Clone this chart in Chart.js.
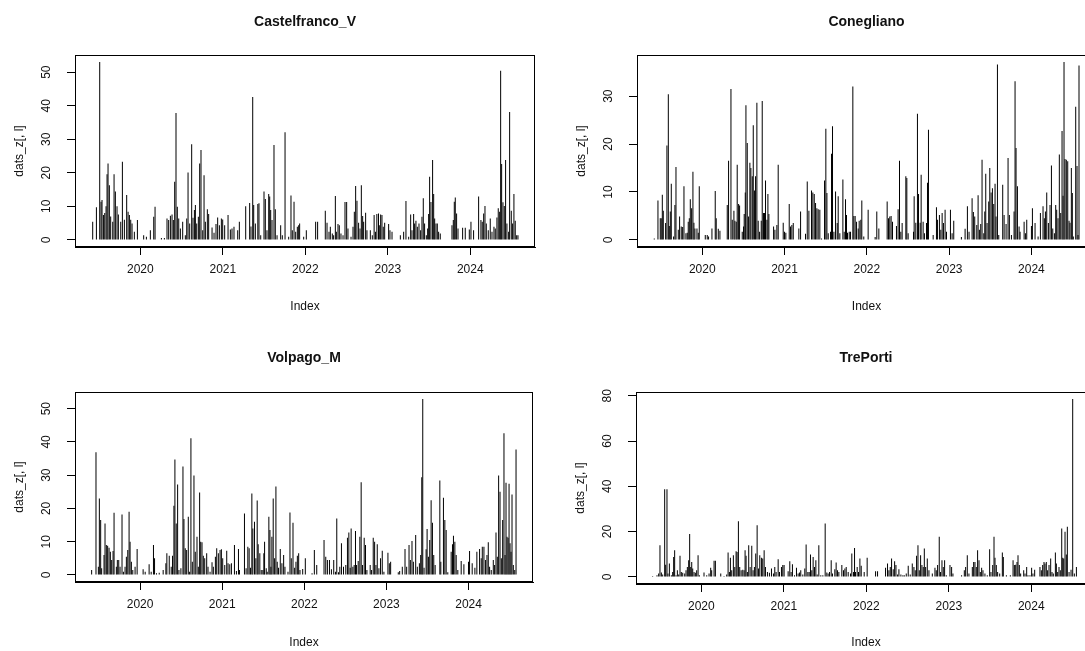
<!DOCTYPE html>
<html>
<head>
<meta charset="utf-8">
<script src="https://cdn.jsdelivr.net/npm/chart.js@4.4.1/dist/chart.umd.min.js"></script>
<style>
html,body{margin:0;padding:0;background:#fff;overflow:hidden;}
#page{position:relative;width:1085px;height:651px;overflow:hidden;background:#fff;}
canvas{position:absolute;}
</style>
</head>
<body>
<div id="page">
<canvas id="c1"></canvas>
<canvas id="c2"></canvas>
<canvas id="c3"></canvas>
<canvas id="c4"></canvas>
</div>
<script>
// ---------- data (dates as decimal years, daily values) ----------
const stationNames = ["Castelfranco_V", "Conegliano", "Volpago_M", "TrePorti"];
const xTickYears = [2020, 2021, 2022, 2023, 2024];
const indexRange = [2019.414, 2024.578]; // first and last day of the series
const yLabel = "dats_z[, l]";
const xLabel = "Index";

const castelfrancoTicks = [0, 10, 20, 30, 40, 50];
const coneglianoTicks = [0, 10, 20, 30];
const volpagoTicks = [0, 10, 20, 30, 40, 50];
const treportiTicks = [0, 20, 40, 60, 80];

const castelfrancoDates = [
2019.422,2019.467,2019.507,2019.523,2019.535,2019.552,2019.568,2019.584,2019.596,2019.608,2019.624,2019.640,2019.665,2019.681,2019.697,2019.717,2019.733,2019.762,2019.782,2019.806,2019.834,2019.851,2019.867,2019.883,2019.899,2019.927,2019.964,
2020.040,2020.073,2020.121,2020.162,2020.178,2020.255,2020.291,2020.323,2020.343,2020.364,2020.384,2020.400,2020.416,2020.432,2020.448,2020.465,2020.485,2020.513,2020.545,2020.562,2020.578,2020.598,2020.622,2020.638,2020.655,2020.667,2020.683,2020.703,2020.719,2020.735,2020.756,2020.772,2020.788,2020.812,2020.828,2020.869,2020.893,2020.917,2020.937,2020.958,2020.982,2020.998,
2021.022,2021.063,2021.091,2021.111,2021.135,2021.180,2021.200,2021.277,2021.325,2021.341,2021.362,2021.374,2021.394,2021.424,2021.438,2021.459,2021.499,2021.515,2021.535,2021.556,2021.568,2021.580,2021.596,2021.620,2021.636,2021.657,2021.701,2021.721,2021.754,2021.798,2021.826,2021.842,2021.863,2021.883,2021.903,2021.919,2021.931,2021.980,
2022.012,2022.125,2022.149,2022.242,2022.263,2022.287,2022.303,2022.327,2022.343,2022.364,2022.376,2022.396,2022.412,2022.432,2022.457,2022.481,2022.501,2022.517,2022.554,2022.578,2022.594,2022.610,2022.626,2022.646,2022.663,2022.679,2022.695,2022.707,2022.731,2022.747,2022.788,2022.812,2022.834,2022.850,2022.867,2022.887,2022.897,2022.913,2022.929,2022.945,2022.962,
2023.010,2023.026,2023.051,2023.152,2023.192,2023.220,2023.253,2023.277,2023.293,2023.313,2023.325,2023.341,2023.358,2023.378,2023.398,2023.414,2023.430,2023.446,2023.467,2023.483,2023.495,2023.507,2023.523,2023.543,2023.556,2023.568,2023.584,2023.600,2023.616,2023.636,2023.778,2023.794,2023.806,2023.818,2023.834,2023.851,2023.907,2023.939,2023.988,
2024.008,2024.040,2024.101,2024.129,2024.145,2024.162,2024.178,2024.194,2024.218,2024.242,2024.263,2024.287,2024.303,2024.323,2024.339,2024.356,2024.368,2024.380,2024.396,2024.412,2024.428,2024.444,2024.465,2024.477,2024.497,2024.513,2024.529,2024.545,2024.562,2024.578
];
const castelfrancoValues = [
5.4,9.7,53.0,11.4,11.9,7.4,8.0,10.0,19.6,22.8,16.3,7.0,5.4,19.6,14.4,10.0,7.6,5.4,23.3,6.0,13.4,8.4,7.4,6.0,4.9,2.4,5.9,
1.4,0.9,2.9,6.9,9.9,0.6,0.6,6.4,5.9,7.2,7.6,5.9,17.3,37.8,9.9,6.4,3.4,5.4,1.4,6.4,20.1,4.9,28.5,6.6,8.9,10.4,4.9,6.9,22.8,26.8,2.9,19.3,5.4,9.1,7.7,3.7,2.1,4.7,6.7,4.4,6.4,6.1,
4.4,7.4,3.1,3.4,3.9,2.9,5.4,10.0,11.0,4.0,42.6,10.4,4.9,10.7,10.9,1.4,14.4,12.2,2.9,13.7,12.9,8.9,5.9,28.3,9.1,1.4,4.4,1.4,32.1,0.9,13.2,2.9,11.4,2.4,3.9,4.4,4.9,0.9,
2.9,5.4,5.4,8.7,5.1,2.4,3.9,1.9,1.4,13.1,2.4,4.7,4.4,1.9,1.4,11.3,11.3,3.4,0.9,3.9,8.4,16.1,11.7,5.1,3.4,16.3,7.1,5.4,8.1,2.9,2.9,1.4,7.4,2.4,7.7,7.9,4.4,7.6,7.4,3.9,5.1,
4.7,2.9,2.4,1.4,2.4,11.6,0.9,7.6,2.9,7.7,4.9,5.7,3.9,4.9,2.9,6.9,12.4,4.9,1.4,3.4,7.7,18.8,11.3,23.8,13.7,6.4,4.9,4.9,2.4,1.9,4.4,5.9,11.4,12.6,7.9,3.4,3.6,3.6,3.1,
5.4,2.9,12.9,5.9,5.4,7.9,10.1,4.9,2.9,6.4,2.4,3.9,3.4,6.7,9.4,8.4,50.4,22.6,11.2,10.1,23.8,4.9,2.4,38.1,8.7,4.9,13.7,5.7,1.4,1.4
];

const coneglianoDates = [
2019.417,2019.462,2019.490,2019.502,2019.515,2019.527,2019.555,2019.571,2019.588,2019.600,2019.612,2019.624,2019.652,2019.668,2019.681,2019.709,2019.725,2019.745,2019.762,2019.778,2019.802,2019.818,2019.830,2019.843,2019.855,2019.871,2019.887,2019.899,2019.911,2019.936,2019.952,2019.964,
2020.037,2020.061,2020.077,2020.118,2020.158,2020.170,2020.195,2020.215,2020.304,2020.320,2020.349,2020.365,2020.385,2020.397,2020.413,2020.425,2020.442,2020.454,2020.486,2020.502,2020.510,2020.523,2020.531,2020.547,2020.563,2020.579,2020.591,2020.608,2020.620,2020.636,2020.648,2020.664,2020.680,2020.697,2020.717,2020.729,2020.745,2020.757,2020.769,2020.786,2020.798,2020.810,2020.867,2020.883,2020.907,2020.923,2020.984,
2021.000,2021.016,2021.057,2021.073,2021.089,2021.106,2021.174,2021.195,2021.255,2021.276,2021.296,2021.328,2021.344,2021.361,2021.377,2021.393,2021.409,2021.429,2021.450,2021.486,2021.502,2021.515,2021.531,2021.559,2021.571,2021.583,2021.600,2021.620,2021.640,2021.652,2021.672,2021.709,2021.725,2021.741,2021.753,2021.765,2021.786,2021.802,2021.830,2021.842,2021.858,2021.875,2021.895,2021.907,2021.927,2021.939,2021.963,
2022.016,2022.101,2022.121,2022.146,2022.247,2022.263,2022.279,2022.295,2022.312,2022.360,2022.380,2022.397,2022.413,2022.429,2022.474,2022.486,2022.502,2022.567,2022.575,2022.595,2022.615,2022.628,2022.648,2022.660,2022.684,2022.700,2022.725,2022.737,2022.749,2022.806,2022.846,2022.858,2022.882,2022.899,2022.915,2022.931,2022.951,2022.968,
2023.016,2023.036,2023.056,2023.149,2023.194,2023.222,2023.242,2023.279,2023.295,2023.311,2023.336,2023.352,2023.368,2023.384,2023.400,2023.421,2023.433,2023.445,2023.461,2023.481,2023.494,2023.510,2023.526,2023.542,2023.558,2023.570,2023.587,2023.603,2023.651,2023.668,2023.692,2023.716,2023.732,2023.757,2023.789,2023.801,2023.813,2023.830,2023.850,2023.862,2023.911,2023.927,2023.943,
2024.000,2024.012,2024.044,2024.081,2024.109,2024.141,2024.157,2024.170,2024.186,2024.206,2024.226,2024.243,2024.259,2024.279,2024.295,2024.307,2024.323,2024.339,2024.356,2024.372,2024.384,2024.396,2024.408,2024.424,2024.441,2024.457,2024.469,2024.485,2024.497,2024.509,2024.538,2024.554,2024.566,2024.578
];
const coneglianoValues = [
0.3,8.2,4.5,4.5,9.4,6.1,3.5,19.7,30.4,2.9,5.9,11.7,0.7,7.3,15.2,2.1,4.9,2.8,2.7,11.2,1.4,1.5,3.8,4.5,8.5,6.6,14.2,3.6,2.4,2.4,1.5,11.2,
1.0,1.0,0.7,2.4,10.2,4.5,2.3,1.9,7.3,16.5,31.5,4.2,6.1,4.0,3.8,15.7,7.5,7.2,1.7,2.8,5.4,9.9,28.1,20.2,4.9,16.1,15.0,13.3,23.9,10.3,13.3,28.6,4.0,1.7,4.0,29.0,5.6,5.6,12.4,4.2,9.6,5.4,2.8,2.1,3.1,15.7,3.6,
1.7,1.5,7.5,2.8,3.1,3.5,2.4,5.9,1.3,12.2,6.1,10.3,9.9,9.6,7.7,6.6,6.4,6.3,0.3,12.4,23.2,9.8,1.4,1.7,18.0,23.7,1.7,10.1,3.5,9.1,1.4,12.6,1.7,8.5,5.2,1.5,1.7,1.7,32.0,5.0,5.0,3.8,2.4,4.0,4.2,8.2,0.7,
6.3,0.6,5.9,2.4,8.0,4.5,4.9,5.0,3.8,2.9,6.4,16.5,1.7,3.5,13.3,12.9,1.4,1.7,9.1,3.6,26.3,9.6,3.6,13.6,3.8,1.4,3.5,11.9,23.0,1.0,6.8,4.2,5.2,2.1,5.6,3.5,6.3,1.7,
6.3,1.4,4.0,0.6,2.3,7.0,1.7,8.7,5.8,4.9,3.1,9.3,2.1,3.3,16.7,1.4,5.9,13.8,3.5,8.0,15.0,9.9,10.8,7.5,11.7,4.9,36.6,1.0,11.5,5.2,3.3,17.1,5.2,1.0,5.9,33.1,19.2,11.2,2.8,1.7,3.8,1.4,4.2,
2.9,6.6,3.5,0.7,5.6,7.0,4.5,5.9,9.9,3.5,7.3,15.5,2.4,1.4,7.3,6.3,4.5,17.8,5.6,22.7,9.2,37.1,16.9,16.7,16.4,4.0,3.6,15.0,9.8,0.7,27.8,15.4,1.0,36.4
];

const volpagoDates = [
2019.410,2019.463,2019.492,2019.504,2019.520,2019.532,2019.561,2019.573,2019.589,2019.605,2019.622,2019.638,2019.654,2019.671,2019.683,2019.711,2019.723,2019.740,2019.756,2019.780,2019.797,2019.817,2019.833,2019.850,2019.866,2019.878,2019.894,2019.911,2019.939,2019.964,
2020.037,2020.062,2020.110,2020.135,2020.163,2020.176,2020.200,2020.233,2020.281,2020.314,2020.326,2020.355,2020.379,2020.395,2020.412,2020.424,2020.440,2020.457,2020.473,2020.497,2020.522,2020.534,2020.550,2020.567,2020.587,2020.603,2020.619,2020.636,2020.656,2020.672,2020.693,2020.709,2020.725,2020.738,2020.754,2020.770,2020.787,2020.811,2020.827,2020.852,2020.876,2020.892,2020.917,2020.933,2020.953,2020.974,2020.990,
2021.006,2021.031,2021.055,2021.071,2021.092,2021.112,2021.149,2021.173,2021.198,2021.210,2021.271,2021.291,2021.312,2021.328,2021.344,2021.361,2021.373,2021.393,2021.410,2021.426,2021.438,2021.458,2021.475,2021.495,2021.507,2021.516,2021.536,2021.548,2021.568,2021.581,2021.593,2021.605,2021.621,2021.638,2021.654,2021.670,2021.686,2021.707,2021.727,2021.748,2021.764,2021.801,2021.825,2021.841,2021.862,2021.882,2021.898,2021.915,2021.931,2021.947,2021.980,
2022.012,2022.094,2022.122,2022.151,2022.240,2022.261,2022.281,2022.306,2022.330,2022.358,2022.379,2022.395,2022.416,2022.432,2022.452,2022.477,2022.505,2022.525,2022.542,2022.558,2022.570,2022.591,2022.607,2022.623,2022.636,2022.656,2022.676,2022.692,2022.709,2022.729,2022.745,2022.762,2022.802,2022.819,2022.839,2022.856,2022.872,2022.888,2022.908,2022.928,2022.949,2022.969,
2023.018,2023.035,2023.051,2023.144,2023.161,2023.193,2023.226,2023.246,2023.275,2023.291,2023.311,2023.328,2023.356,2023.376,2023.401,2023.417,2023.430,2023.442,2023.458,2023.483,2023.495,2023.511,2023.527,2023.544,2023.560,2023.576,2023.593,2023.650,2023.662,2023.694,2023.711,2023.727,2023.747,2023.788,2023.804,2023.816,2023.833,2023.849,2023.869,2023.910,2023.943,2023.999,
2024.012,2024.044,2024.077,2024.101,2024.134,2024.154,2024.167,2024.187,2024.207,2024.224,2024.240,2024.256,2024.276,2024.301,2024.317,2024.334,2024.350,2024.366,2024.383,2024.399,2024.415,2024.431,2024.444,2024.456,2024.468,2024.481,2024.493,2024.505,2024.517,2024.529,2024.545,2024.562,2024.578
];
const volpagoValues = [
1.5,36.9,2.5,23.0,16.5,2.0,6.0,15.5,9.0,8.8,8.2,7.0,4.5,7.2,18.7,2.5,4.5,4.5,2.5,18.2,1.0,2.5,5.5,7.5,19.0,10.0,4.0,1.5,2.5,7.8,
1.7,1.0,3.2,1.0,9.0,5.0,0.5,0.7,1.5,3.5,6.5,5.8,2.5,5.8,20.8,34.7,15.5,27.2,1.5,2.0,32.6,16.8,8.0,7.5,17.5,1.0,41.1,4.0,29.9,7.0,11.5,2.5,24.8,10.0,9.8,5.8,5.0,6.5,2.5,1.0,3.8,2.5,5.5,8.0,6.5,7.5,7.7,
5.0,3.0,7.3,3.5,3.2,3.5,9.0,1.2,7.8,1.5,18.5,2.0,8.5,8.0,2.2,24.5,14.0,16.0,5.0,22.4,9.2,6.5,1.5,1.5,6.5,10.0,2.0,1.0,17.5,13.5,2.5,11.5,23.0,5.0,26.6,4.0,2.2,7.8,3.5,6.0,2.5,1.0,18.8,5.0,15.7,2.2,4.0,5.8,6.5,1.5,1.8,
5.0,0.5,7.5,3.0,10.5,5.5,4.5,4.5,1.7,4.5,1.0,17.0,0.8,2.5,9.5,2.5,3.0,11.2,12.8,2.2,14.0,2.5,3.0,13.2,3.0,4.2,11.5,27.9,3.0,11.2,9.0,1.5,3.0,1.5,11.2,10.0,3.0,9.2,2.0,5.0,7.3,1.0,
6.7,3.5,4.0,0.8,1.2,2.5,7.8,2.5,9.0,4.5,10.2,4.0,12.0,2.5,3.5,6.0,29.4,52.9,2.2,7.7,13.8,5.5,10.5,22.5,15.7,6.0,3.0,28.4,4.0,23.2,16.5,13.5,0.8,7.0,9.2,11.8,10.0,6.0,1.5,4.2,3.2,4.0,
7.2,3.5,2.2,7.0,7.8,5.0,8.5,8.5,4.5,6.0,9.8,2.5,1.5,4.5,3.0,12.8,5.5,29.9,25.0,5.0,16.5,42.6,6.0,27.7,11.5,11.2,27.4,9.5,7.0,24.2,3.0,1.5,37.7
];

const treportiDates = [
2019.409,2019.462,2019.482,2019.498,2019.515,2019.531,2019.555,2019.567,2019.583,2019.595,2019.612,2019.636,2019.652,2019.664,2019.676,2019.693,2019.709,2019.725,2019.741,2019.757,2019.774,2019.798,2019.814,2019.830,2019.846,2019.858,2019.871,2019.883,2019.895,2019.911,2019.927,2019.943,2019.960,2019.976,
2020.032,2020.065,2020.093,2020.113,2020.125,2020.154,2020.170,2020.235,2020.275,2020.307,2020.324,2020.340,2020.352,2020.368,2020.388,2020.405,2020.421,2020.433,2020.449,2020.465,2020.482,2020.502,2020.518,2020.530,2020.542,2020.558,2020.574,2020.591,2020.611,2020.627,2020.643,2020.659,2020.676,2020.692,2020.708,2020.728,2020.744,2020.761,2020.777,2020.801,2020.825,2020.850,2020.874,2020.890,2020.906,2020.931,2020.947,2020.971,2020.987,
2021.003,2021.052,2021.072,2021.088,2021.104,2021.129,2021.153,2021.173,2021.189,2021.205,2021.230,2021.254,2021.270,2021.291,2021.307,2021.323,2021.339,2021.355,2021.371,2021.388,2021.404,2021.424,2021.448,2021.473,2021.501,2021.521,2021.537,2021.554,2021.574,2021.590,2021.618,2021.634,2021.651,2021.667,2021.703,2021.723,2021.740,2021.756,2021.780,2021.808,2021.824,2021.845,2021.857,2021.869,2021.889,2021.905,2021.922,2021.938,2021.974,
2022.010,2022.112,2022.136,2022.233,2022.257,2022.274,2022.290,2022.306,2022.326,2022.343,2022.359,2022.379,2022.395,2022.419,2022.443,2022.460,2022.484,2022.508,2022.532,2022.557,2022.577,2022.593,2022.609,2022.626,2022.642,2022.658,2022.674,2022.690,2022.703,2022.719,2022.739,2022.759,2022.800,2022.832,2022.848,2022.864,2022.884,2022.900,2022.917,2022.933,2022.949,2022.969,
2023.014,2023.034,2023.050,2023.155,2023.188,2023.204,2023.224,2023.244,2023.285,2023.301,2023.317,2023.333,2023.349,2023.366,2023.382,2023.398,2023.414,2023.438,2023.466,2023.495,2023.511,2023.532,2023.548,2023.560,2023.576,2023.592,2023.617,2023.649,2023.661,2023.698,2023.746,2023.779,2023.795,2023.811,2023.827,2023.839,2023.855,2023.871,2023.908,2023.924,2023.944,2023.960,2023.984,
2024.004,2024.020,2024.041,2024.105,2024.122,2024.138,2024.154,2024.166,2024.182,2024.198,2024.215,2024.235,2024.251,2024.267,2024.292,2024.304,2024.320,2024.336,2024.352,2024.369,2024.381,2024.393,2024.409,2024.425,2024.437,2024.458,2024.482,2024.502,2024.522,2024.547
];
const treportiValues = [
0.4,0.7,1.5,14.0,1.9,1.0,38.7,5.4,38.7,1.5,5.9,0.7,2.2,8.8,11.8,0.7,2.9,1.0,9.3,2.2,1.8,1.5,2.9,4.4,7.4,18.9,4.4,6.6,3.7,2.2,1.8,2.9,9.6,0.7,
1.9,0.7,1.5,4.0,2.9,7.1,7.1,1.5,0.4,1.0,10.8,2.2,8.4,2.9,9.6,4.4,11.3,11.0,24.6,4.4,2.9,3.2,2.9,11.8,9.3,2.2,14.0,4.4,13.7,2.9,4.4,10.3,22.8,3.7,9.6,8.4,8.1,11.8,4.4,2.2,1.8,3.7,1.5,4.4,2.2,7.8,2.2,4.4,5.2,
5.2,2.5,6.9,2.2,5.6,0.7,4.0,1.5,1.9,2.9,1.0,3.7,14.3,2.2,2.2,9.9,2.9,8.8,4.4,7.4,1.0,14.0,0.7,0.7,23.6,1.9,1.5,2.2,7.4,1.5,3.4,6.3,2.9,2.2,5.2,2.9,3.7,4.4,2.2,1.5,10.3,2.2,12.8,2.2,4.4,2.2,8.1,4.9,2.2,
8.4,2.5,2.5,4.0,5.9,2.9,4.4,8.1,3.4,6.9,5.2,1.0,3.4,1.0,0.7,0.7,1.5,4.9,1.0,5.9,4.4,2.9,9.3,14.0,2.9,9.6,5.2,4.4,12.5,4.4,8.1,2.9,1.5,4.0,2.9,5.2,17.7,2.2,7.4,4.4,7.4,0.7,
5.2,4.4,1.5,0.7,2.9,4.4,9.6,1.5,4.4,6.6,6.6,4.4,11.8,7.4,2.2,4.0,2.9,1.5,0.7,12.2,2.2,5.2,17.7,8.4,5.2,2.2,1.5,10.8,8.8,0.7,0.7,7.4,5.2,5.4,6.6,9.6,5.2,1.5,2.9,1.5,4.4,0.7,0.7,
4.0,1.5,3.2,4.4,2.9,5.2,6.6,5.9,6.6,2.9,5.2,8.1,2.2,1.5,10.8,5.9,2.2,4.4,2.9,21.4,8.4,8.1,19.9,9.9,22.1,2.2,3.2,78.5,1.5,4.4
];

// ---------- layout (page pixels) ----------
const panels = [
  {id:"c1", x:0,   y:0,   w:620, h:330, box:{l:75,  t:55,  r:535,  b:247}, titleY:22,  ylabX:20,  indexY:307},
  {id:"c2", x:560, y:0,   w:620, h:330, box:{l:637, t:55,  r:1096, b:247}, titleY:22,  ylabX:582, indexY:307},
  {id:"c3", x:0,   y:335, w:620, h:316, box:{l:75,  t:392, r:533,  b:582}, titleY:358, ylabX:20,  indexY:643},
  {id:"c4", x:560, y:335, w:620, h:316, box:{l:636, t:392, r:1096, b:584}, titleY:358, ylabX:581, indexY:643}
];
const series = [
  {dates: castelfrancoDates, values: castelfrancoValues, ticks: castelfrancoTicks},
  {dates: coneglianoDates,   values: coneglianoValues,   ticks: coneglianoTicks},
  {dates: volpagoDates,      values: volpagoValues,      ticks: volpagoTicks},
  {dates: treportiDates,     values: treportiValues,     ticks: treportiTicks}
];

const FONT = "'Liberation Sans', Arial, Helvetica, sans-serif";
const INK = "#111";

const boxPlugin = {
  id: "rbox",
  afterDraw(chart) {
    const a = chart.chartArea, ctx = chart.ctx;
    ctx.save();
    ctx.strokeStyle = "#000";
    ctx.lineWidth = 1;
    ctx.strokeRect(a.left + 0.5, a.top + 0.5, a.right - a.left - 1, a.bottom - a.top - 1);
    ctx.restore();
  }
};

panels.forEach((p, i) => {
  const s = series[i];
  const cv = document.getElementById(p.id);
  cv.width = p.w; cv.height = p.h;
  cv.style.left = p.x + "px"; cv.style.top = p.y + "px";
  cv.style.width = p.w + "px"; cv.style.height = p.h + "px";

  const maxV = Math.max(...s.values);
  const span = indexRange[1] - indexRange[0];
  const xMin = indexRange[0] - 0.04 * span, xMax = indexRange[1] + 0.04 * span;
  const yMin = -0.04 * maxV, yMax = 1.04 * maxV;

  const titleSize = 14, titleLH = titleSize * 1.2;
  const titleBlock = p.box.t - p.y;
  const tPadTop = (p.titleY - p.y) - titleLH / 2;
  const tPadBottom = titleBlock - tPadTop - titleLH;

  const yAxisW = p.box.l - p.x;
  const xAxisH = (p.y + p.h) - p.box.b;
  const padRight = p.w - (p.box.r - p.x);

  const tickLen = 8;
  const lab = 12, labLH = lab * 1.2;

  const points = s.dates.map((d, k) => ({x: d, y: s.values[k]}));

  new Chart(cv, {
    type: "bar",
    data: {
      datasets: [{
        data: points,
        backgroundColor: "#000",
        borderWidth: 0,
        inflateAmount: 0,
        barThickness: 1,
        categoryPercentage: 1,
        barPercentage: 1
      }]
    },
    options: {
      responsive: false,
      animation: false,
      devicePixelRatio: 1,
      events: [],
      layout: {padding: {left: 0, top: 0, bottom: 0, right: padRight}},
      plugins: {
        legend: {display: false},
        tooltip: {enabled: false},
        title: {
          display: true,
          text: stationNames[i],
          fullSize: false,
          color: INK,
          font: {family: FONT, size: titleSize, weight: "bold"},
          padding: {top: tPadTop, bottom: tPadBottom}
        }
      },
      scales: {
        x: {
          type: "linear",
          offset: false,
          min: xMin, max: xMax,
          afterBuildTicks: sc => { sc.ticks = xTickYears.map(v => ({value: v})); },
          afterFit: sc => { sc.height = xAxisH; },
          grid: {offset: false, drawOnChartArea: false, drawTicks: true, tickLength: tickLen, color: "#000", lineWidth: 1},
          border: {display: true, color: "#000", width: 1},
          ticks: {
            autoSkip: false, maxRotation: 0, minRotation: 0,
            padding: 23 - tickLen - labLH / 2,
            color: INK, font: {family: FONT, size: lab},
            callback: v => String(v)
          },
          title: {
            display: true, text: xLabel, color: INK,
            font: {family: FONT, size: lab},
            padding: {top: 0, bottom: (p.y + p.h) - p.indexY - labLH / 2}
          }
        },
        y: {
          type: "linear",
          min: yMin, max: yMax,
          afterBuildTicks: sc => { sc.ticks = s.ticks.map(v => ({value: v})); },
          afterFit: sc => { sc.width = yAxisW; },
          grid: {drawOnChartArea: false, drawTicks: true, tickLength: tickLen, color: "#000", lineWidth: 1},
          border: {display: true, color: "#000", width: 1},
          ticks: {
            autoSkip: false, minRotation: 90, maxRotation: 90, crossAlign: "center",
            padding: 14,
            color: INK, font: {family: FONT, size: lab},
            callback: v => String(v)
          },
          title: {
            display: true, text: yLabel, color: INK,
            font: {family: FONT, size: lab},
            padding: {top: (p.ylabX - p.x) - labLH / 2, bottom: 0}
          }
        }
      }
    },
    plugins: [boxPlugin]
  });
});
</script>
</body>
</html>
